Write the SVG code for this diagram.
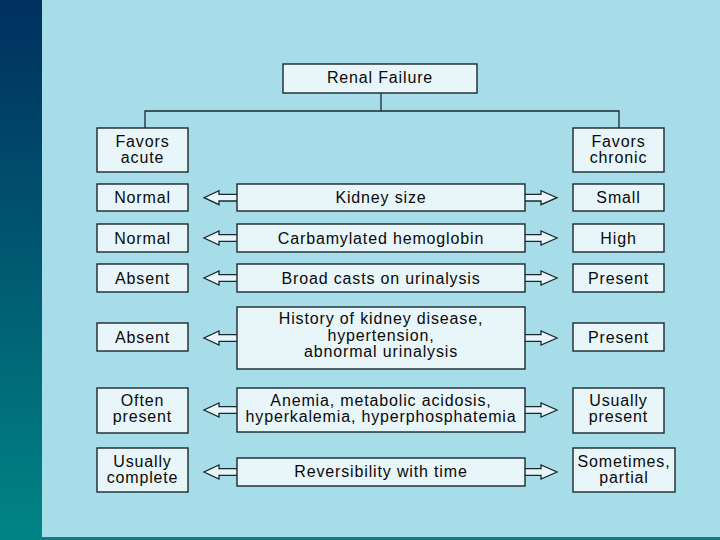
<svg xmlns="http://www.w3.org/2000/svg" width="720" height="540" viewBox="0 0 720 540">
<defs>
<linearGradient id="band" x1="0" y1="0" x2="0" y2="1">
<stop offset="0" stop-color="#00305f"/>
<stop offset="1" stop-color="#008585"/>
</linearGradient>
</defs>
<style>
.box{fill:#e8f5f9;stroke:#1b2830;stroke-width:1.4}
.ln{fill:none;stroke:#1b2830;stroke-width:1.3}
.ar{fill:#e8f5f9;stroke:#1b2830;stroke-width:1.3;stroke-linejoin:miter}
text{font-family:"Liberation Sans",Arial,sans-serif;font-size:16px;fill:#0a0a0a;text-anchor:middle;letter-spacing:0.85px}
</style>
<rect x="0" y="0" width="720" height="540" fill="#a6dde9"/>
<rect x="0" y="0" width="42" height="540" fill="url(#band)"/>
<rect x="42" y="537" width="678" height="3" fill="#0e7c80"/>

<g id="connectors">
<path class="ln" d="M381,93 V111 M145,128 V111 H619 V128"/>
<path class="ar" d="M238,194.3 H219 V190.7 L204,197.7 L219,204.7 V201 H238"/>
<path class="ar" d="M524,194.3 H541 V190.7 L557,197.7 L541,204.7 V201 H524"/>
<path class="ar" d="M238,234.6 H219 V231 L204,238 L219,245 V241.4 H238"/>
<path class="ar" d="M524,234.6 H541 V231 L557,238 L541,245 V241.4 H524"/>
<path class="ar" d="M238,274.6 H219 V271 L204,278 L219,285 V281.4 H238"/>
<path class="ar" d="M524,274.6 H541 V271 L557,278 L541,285 V281.4 H524"/>
<path class="ar" d="M238,334.6 H219 V331 L204,338 L219,345 V341.4 H238"/>
<path class="ar" d="M524,334.6 H541 V331 L557,338 L541,345 V341.4 H524"/>
<path class="ar" d="M238,406.6 H219 V403 L204,410 L219,417 V413.4 H238"/>
<path class="ar" d="M524,406.6 H541 V403 L557,410 L541,417 V413.4 H524"/>
<path class="ar" d="M238,468.6 H219 V465 L204,472 L219,479 V475.4 H238"/>
<path class="ar" d="M524,468.6 H541 V465 L557,472 L541,479 V475.4 H524"/>
</g>

<g id="renal-failure"><rect class="box" x="283" y="64" width="194" height="29"/><text x="380" y="83">Renal Failure</text></g>
<g id="favors-acute"><rect class="box" x="97" y="128" width="91" height="44"/><text x="142.5" y="147">Favors</text><text x="142.5" y="163">acute</text></g>
<g id="favors-chronic"><rect class="box" x="573" y="128" width="91" height="44"/><text x="618.5" y="147">Favors</text><text x="618.5" y="163">chronic</text></g>

<g id="row1-left"><rect class="box" x="97" y="184" width="91" height="27"/><text x="142.5" y="203">Normal</text></g>
<g id="row1-mid"><rect class="box" x="237" y="184" width="288" height="27"/><text x="381" y="203">Kidney size</text></g>
<g id="row1-right"><rect class="box" x="573" y="184" width="91" height="27"/><text x="618.5" y="203">Small</text></g>

<g id="row2-left"><rect class="box" x="97" y="224" width="91" height="28"/><text x="142.5" y="243.5">Normal</text></g>
<g id="row2-mid"><rect class="box" x="237" y="224" width="288" height="28"/><text x="381" y="243.5">Carbamylated hemoglobin</text></g>
<g id="row2-right"><rect class="box" x="573" y="224" width="91" height="28"/><text x="618.5" y="243.5">High</text></g>

<g id="row3-left"><rect class="box" x="97" y="264" width="91" height="28"/><text x="142.5" y="283.5">Absent</text></g>
<g id="row3-mid"><rect class="box" x="237" y="264" width="288" height="28"/><text x="381" y="283.5">Broad casts on urinalysis</text></g>
<g id="row3-right"><rect class="box" x="573" y="264" width="91" height="28"/><text x="618.5" y="283.5">Present</text></g>

<g id="row4-left"><rect class="box" x="97" y="323" width="91" height="28"/><text x="142.5" y="342.5">Absent</text></g>
<g id="row4-mid"><rect class="box" x="237" y="307" width="288" height="62"/><text x="381" y="324">History of kidney disease,</text><text x="381" y="340.5">hypertension,</text><text x="381" y="357">abnormal urinalysis</text></g>
<g id="row4-right"><rect class="box" x="573" y="323" width="91" height="28"/><text x="618.5" y="342.5">Present</text></g>

<g id="row5-left"><rect class="box" x="97" y="388" width="91" height="45"/><text x="142.5" y="406">Often</text><text x="142.5" y="422">present</text></g>
<g id="row5-mid"><rect class="box" x="237" y="388" width="288" height="44"/><text x="381" y="406">Anemia, metabolic acidosis,</text><text x="381" y="422">hyperkalemia, hyperphosphatemia</text></g>
<g id="row5-right"><rect class="box" x="573" y="388" width="91" height="45"/><text x="618.5" y="406">Usually</text><text x="618.5" y="422">present</text></g>

<g id="row6-left"><rect class="box" x="97" y="448" width="91" height="44"/><text x="142.5" y="467">Usually</text><text x="142.5" y="483">complete</text></g>
<g id="row6-mid"><rect class="box" x="237" y="458" width="288" height="28"/><text x="381" y="477">Reversibility with time</text></g>
<g id="row6-right"><rect class="box" x="573" y="448" width="102" height="44"/><text x="624" y="467">Sometimes,</text><text x="624" y="483">partial</text></g>
</svg>
